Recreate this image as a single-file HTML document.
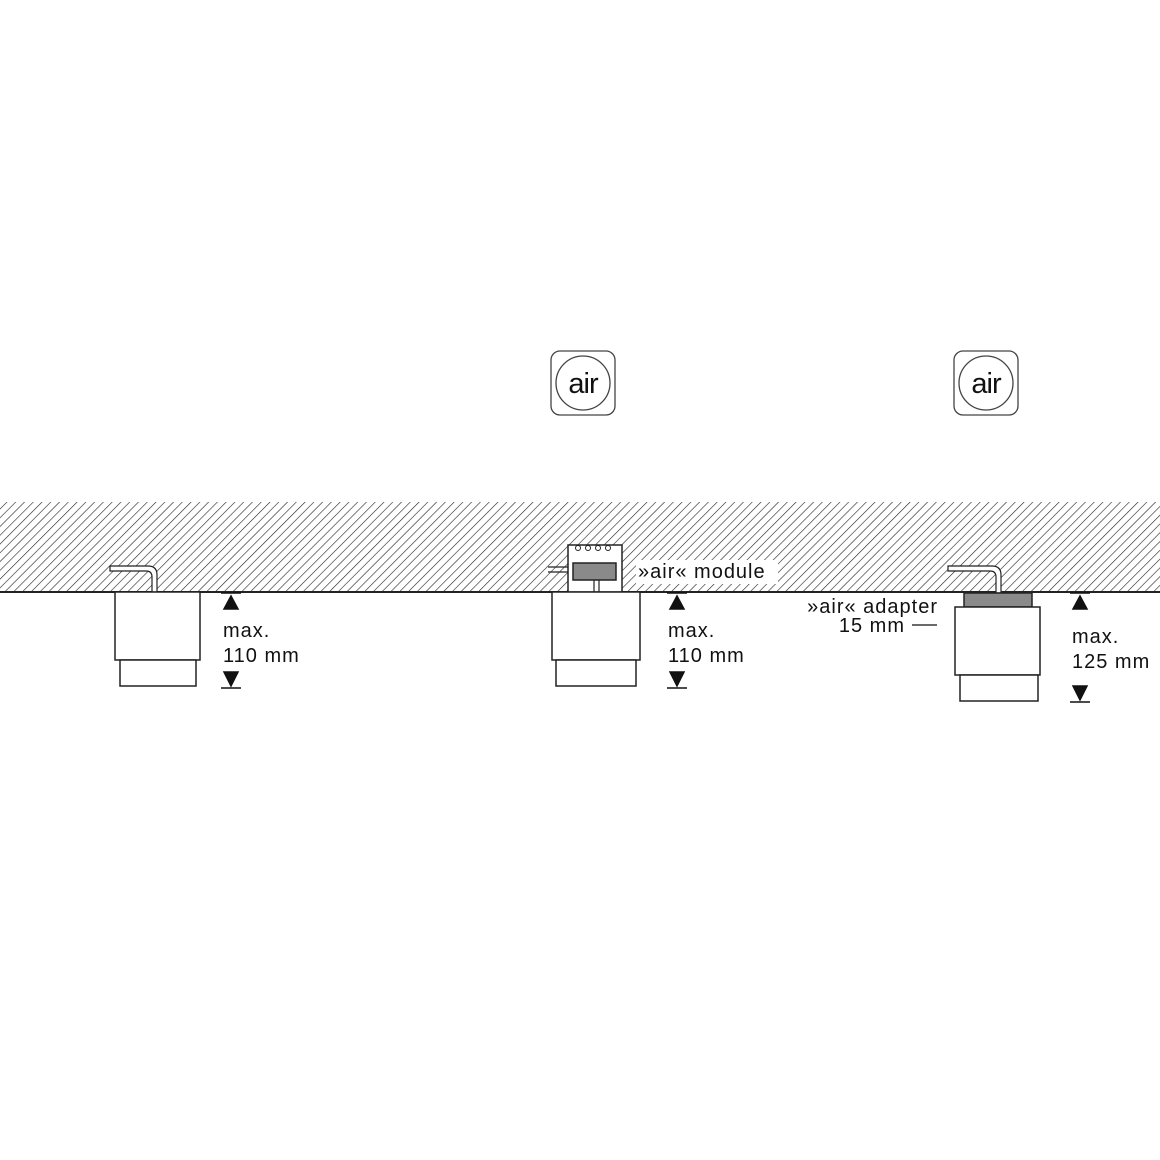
<!DOCTYPE html>
<html><head><style>body{margin:0;background:#fff}svg{display:block}text{font-family:"Liberation Sans",sans-serif;fill:#111}</style></head><body>
<svg width="1160" height="1160" viewBox="0 0 1160 1160" xmlns="http://www.w3.org/2000/svg">
<defs>
<pattern id="h" patternUnits="userSpaceOnUse" width="6.2" height="6.2" patternTransform="rotate(45)">
<line x1="0" y1="0" x2="0" y2="6.2" stroke="#222" stroke-width="1.2"/>
</pattern>
</defs>
<rect x="0" y="502" width="1160" height="90" fill="url(#h)"/>
<line x1="0" y1="592" x2="1160" y2="592" stroke="#222" stroke-width="2"/>

<!-- air icons -->
<g stroke="#444" stroke-width="1.3" fill="#fff">
<rect x="551" y="351" width="64" height="64" rx="9"/>
<circle cx="583" cy="383" r="27"/>
<rect x="954" y="351" width="64" height="64" rx="9"/>
<circle cx="986" cy="383" r="27"/>
</g>
<text x="583" y="393" font-size="29" text-anchor="middle" letter-spacing="-1" fill="#333">air</text>
<text x="986" y="393" font-size="29" text-anchor="middle" letter-spacing="-1" fill="#333">air</text>

<!-- left unit -->
<g stroke="#222" stroke-width="1.5" fill="#fff">
<path d="M110 566 H148 Q157 566 157 575 V592 H152 V577 Q152 571 146 571 H110 Z" stroke-width="1.2"/>
<rect x="115" y="592" width="85" height="68"/>
<rect x="120" y="660" width="76" height="26"/>
</g>
<!-- middle unit -->
<g stroke="#222" stroke-width="1.5" fill="#fff">
<rect x="568" y="545" width="54" height="47"/>
<path d="M548 567 H568 M548 572 H568" fill="none" stroke-width="1.2"/>
<rect x="573" y="563" width="43" height="17" fill="#8a8a8a"/>
<path d="M594 580 V592 M599 580 V592" stroke-width="1.2"/>
<circle cx="578" cy="548" r="2.5" stroke-width="1"/><circle cx="588" cy="548" r="2.5" stroke-width="1"/>
<circle cx="598" cy="548" r="2.5" stroke-width="1"/><circle cx="608" cy="548" r="2.5" stroke-width="1"/>
<rect x="552" y="592" width="88" height="68"/>
<rect x="556" y="660" width="80" height="26"/>
</g>
<!-- right unit -->
<g stroke="#222" stroke-width="1.5" fill="#fff">
<path d="M948 566 H992 Q1001 566 1001 575 V593 H996 V577 Q996 571 990 571 H948 Z" stroke-width="1.2"/>
<rect x="964" y="593" width="68" height="14" fill="#8a8a8a"/>
<rect x="955" y="607" width="85" height="68"/>
<rect x="960" y="675" width="78" height="26"/>
</g>

<!-- dimension arrows -->
<g fill="#111" stroke="#111" stroke-width="1.5">
<line x1="221" y1="593" x2="241" y2="593"/><polygon points="231,596 224,609 238,609"/>
<polygon points="224,672 238,672 231,686"/><line x1="221" y1="688" x2="241" y2="688"/>
<line x1="667" y1="593" x2="687" y2="593"/><polygon points="677,596 670,609 684,609"/>
<polygon points="670,672 684,672 677,686"/><line x1="667" y1="688" x2="687" y2="688"/>
<line x1="1070" y1="593" x2="1090" y2="593"/><polygon points="1080,596 1073,609 1087,609"/>
<polygon points="1073,686 1087,686 1080,700"/><line x1="1070" y1="702" x2="1090" y2="702"/>
<line x1="912" y1="625" x2="937" y2="625" stroke-width="1.2"/>
</g>

<g font-size="20" letter-spacing="1">
<text x="223" y="637">max.</text><text x="223" y="662">110 mm</text>
<text x="668" y="637">max.</text><text x="668" y="662">110 mm</text>
<text x="1072" y="643">max.</text><text x="1072" y="668">125 mm</text>
<rect x="636" y="560" width="142" height="24" fill="#fff"/>
<text x="638" y="578">»air« module</text>
<text x="938" y="613" text-anchor="end">»air« adapter</text>
<text x="905" y="632" text-anchor="end">15 mm</text>
</g>
</svg>
</body></html>
